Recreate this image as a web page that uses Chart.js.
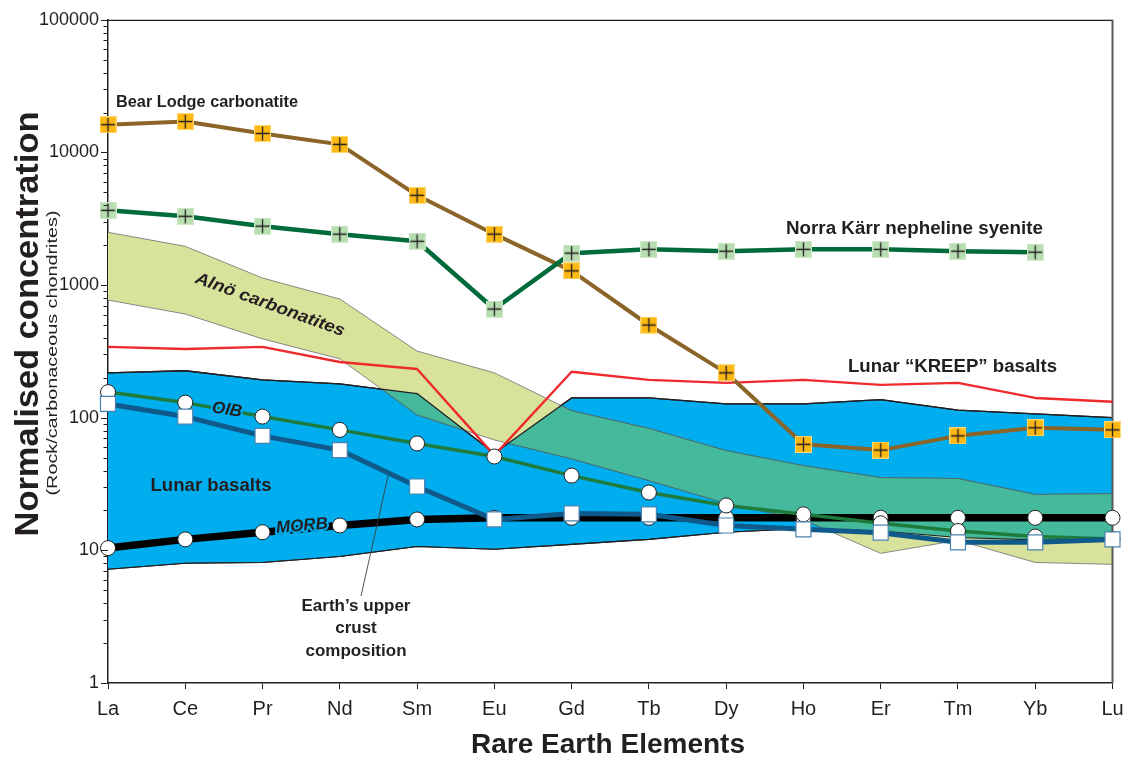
<!DOCTYPE html>
<html>
<head>
<meta charset="utf-8">
<script src="https://cdn.jsdelivr.net/npm/chart.js@4.4.1/dist/chart.umd.min.js"></script>
<style>
html,body{margin:0;padding:0;background:#ffffff;}
#wrap{width:1125px;height:761px;position:relative;}
</style>
</head>
<body>
<div id="wrap"><canvas id="c" width="1125" height="761"></canvas></div>
<script>
// ---------------- data ----------------
const categories = ['La','Ce','Pr','Nd','Sm','Eu','Gd','Tb','Dy','Ho','Er','Tm','Yb','Lu'];
const yTickValues = [1, 10, 100, 1000, 10000, 100000];
const yTickLabels = ['1', '10', '100', '1000', '10000', '100000'];

const bearLodge = [16200, 17100, 13900, 11500, 4750, 2420, 1280, 500, 218, 63, 57, 73, 84, 81];
const norraKarr = [3660, 3300, 2780, 2420, 2140, 660, 1740, 1860, 1800, 1860, 1860, 1800, 1770, null];
const kreep     = [342, 330, 342, 263, 233, 52, 222, 193, 183, 193, 177, 183, 141, 132];
const oib       = [156, 130, 102, 81, 64, 51, 36.6, 27.3, 21.8, 18.7, 16, 14, 12.7, 12.2];
const upperCrust= [127, 102, 73, 57, 30.3, 17.1, 19, 18.7, 15.4, 14.4, 13.6, 11.5, 11.5, 12.1];
const morb      = [10.4, 12.1, 13.7, 15.4, 17.1, 17.6, 17.6, 17.6, 17.6, 17.6, 17.6, 17.6, 17.6, 17.6];
const lunarUpper= [218, 226, 193, 180, 152, 54, 141, 141, 127, 127, 137, 114, 107, 100];
const lunarLower= [7.2, 8.0, 8.1, 9.0, 10.7, 10.2, 11.1, 12.1, 13.7, 14.6, 14, 12.5, 12, 12];
const alnoUpper = [2500, 1960, 1130, 785, 318, 218, 113, 83, 56.5, 43.5, 35.4, 34.8, 26.4, 26.8];
const alnoLower = [771, 605, 393, 278, 105, 68, 49, 33.6, 22.6, 17, 9.5, 11.9, 8.1, 7.85];

// ---------------- styles ----------------
const INK = '#231F20';
const TEAL = '#45B99B';
const BLUE = '#00AEEF';
const FONT = '"Liberation Sans", Arial, sans-serif';
function crossSquare(size, fill, edge) {
  const c = document.createElement('canvas');
  c.width = size; c.height = size;
  const g = c.getContext('2d');
  g.fillStyle = edge; g.fillRect(0, 0, size, size);
  g.fillStyle = fill; g.fillRect(1, 1, size - 2, size - 2);
  g.strokeStyle = INK; g.lineWidth = 1.3;
  const m = size / 2;
  g.beginPath();
  g.moveTo(m, 1.5); g.lineTo(m, size - 1.5);
  g.moveTo(1.5, m); g.lineTo(size - 1.5, m);
  g.stroke();
  return c;
}
const bearMarker = crossSquare(17, '#FDB813', '#FFD873');
const norraMarker = crossSquare(17, '#B7DEB1', '#CFE9C9');

function txt(ctx, s, x, y, font, o) {
  o = o || {};
  ctx.save();
  ctx.translate(x, y);
  if (o.rot) ctx.rotate(o.rot * Math.PI / 180);
  ctx.font = font;
  if (o.len) { const w = ctx.measureText(s).width; ctx.scale(o.len / w, 1); }
  ctx.textAlign = o.align || 'center';
  ctx.textBaseline = 'middle';
  if (o.halo) {
    ctx.strokeStyle = o.halo; ctx.lineWidth = o.haloW || 4; ctx.lineJoin = 'round';
    ctx.strokeText(s, 0, 0);
  }
  ctx.fillStyle = o.color || INK;
  ctx.fillText(s, 0, 0);
  ctx.restore();
}

// band overlap (teal) + outlines + frame
const IDX = {lu: 0, ll: 1, au: 2, al: 3};
const bandPlugin = {
  id: 'bandOverlap',
  afterDatasetDraw(chart, args) {
    if (args.index !== IDX.al) return;
    const ctx = chart.ctx, a = chart.chartArea;
    const bu = chart.getDatasetMeta(IDX.lu).data, bl = chart.getDatasetMeta(IDX.ll).data;
    const au = chart.getDatasetMeta(IDX.au).data, al = chart.getDatasetMeta(IDX.al).data;
    const path = (u, l) => {
      ctx.beginPath();
      u.forEach((p, i) => i ? ctx.lineTo(p.x, p.y) : ctx.moveTo(p.x, p.y));
      for (let i = l.length - 1; i >= 0; i--) ctx.lineTo(l[i].x, l[i].y);
      ctx.closePath();
    };
    const line = (pts, color, w) => {
      ctx.beginPath();
      pts.forEach((p, i) => i ? ctx.lineTo(p.x, p.y) : ctx.moveTo(p.x, p.y));
      ctx.strokeStyle = color; ctx.lineWidth = w; ctx.lineJoin = 'round'; ctx.stroke();
    };
    ctx.save();
    ctx.beginPath(); ctx.rect(a.left, a.top, a.right - a.left, a.bottom - a.top); ctx.clip();
    ctx.save();
    path(bu, bl); ctx.clip();
    path(au, al); ctx.fillStyle = TEAL; ctx.fill();
    line(au, '#3F5F66', 0.8);
    line(al, '#3F5F66', 0.8);
    ctx.restore();
    line(bu, INK, 1.3);
    line(bl, INK, 1.1);
    ctx.restore();
    // frame: top + right
    ctx.save();
    ctx.strokeStyle = INK; ctx.lineWidth = 1.2;
    ctx.beginPath(); ctx.moveTo(a.left, a.top + 0.5); ctx.lineTo(a.right, a.top + 0.5); ctx.stroke();
    ctx.strokeStyle = '#58595B'; ctx.lineWidth = 2;
    ctx.beginPath(); ctx.moveTo(a.right, a.top); ctx.lineTo(a.right, a.bottom); ctx.stroke();
    ctx.restore();
  }
};

const decorPlugin = {
  id: 'decor',
  afterDraw(chart) {
    const ctx = chart.ctx, a = chart.chartArea, y = chart.scales.y;
    // y ticks major & minor (outward)
    ctx.save();
    ctx.strokeStyle = INK; ctx.lineWidth = 1;
    for (let d = 1; d <= 100000; d *= 10) {
      for (let k = 1; k <= 9; k++) {
        const v = d * k;
        if (v > 100000) break;
        const py = Math.round(y.getPixelForValue(v)) + 0.5;
        const len = k === 1 ? 7 : 4.5;
        ctx.beginPath(); ctx.moveTo(a.left - len, py); ctx.lineTo(a.left, py); ctx.stroke();
      }
    }
    ctx.restore();
    // axis titles
    txt(ctx, 'Normalised concentration', 29, 324, 'bold 33px ' + FONT, {rot: -90, len: 425});
    txt(ctx, '(Rock/carbonaceous chondrites)', 53, 353, '15px ' + FONT, {rot: -90, len: 285});
    txt(ctx, 'Rare Earth Elements', 608, 745, 'bold 28px ' + FONT, {len: 274});
  },
  afterDatasetsDraw(chart) {
    const ctx = chart.ctx;
    const B = 'bold 18px ' + FONT;
    const BI = 'italic bold 17px ' + FONT;
    txt(ctx, 'Bear Lodge carbonatite', 116, 102, 'bold 17px ' + FONT, {align: 'left', len: 182});
    txt(ctx, 'Norra Kärr nepheline syenite', 786, 229, B, {align: 'left', len: 257});
    txt(ctx, 'Lunar \u201CKREEP\u201D basalts', 848, 367, B, {align: 'left', len: 209});
    txt(ctx, 'Alnö carbonatites', 270, 305, BI, {rot: 20, len: 158});
    txt(ctx, 'Lunar basalts', 211, 486, B, {len: 121});
    txt(ctx, 'OIB', 227, 410, 'italic bold 17px ' + FONT, {rot: 9, halo: BLUE, haloW: 4});
    txt(ctx, 'MORB', 302, 526, 'italic bold 17px ' + FONT, {rot: -5, halo: BLUE, haloW: 4});
    const F = 'bold 17px ' + FONT;
    txt(ctx, 'Earth\u2019s upper', 356, 606, F);
    txt(ctx, 'crust', 356, 628, F);
    txt(ctx, 'composition', 356, 651, F);
    ctx.save();
    ctx.strokeStyle = '#414042'; ctx.lineWidth = 0.9;
    ctx.beginPath(); ctx.moveTo(388, 476); ctx.lineTo(361, 596); ctx.stroke();
    ctx.restore();
  }
};

const band = (data, fill, bg, border, bw, order) => ({
  data, fill, backgroundColor: bg, borderColor: border, borderWidth: bw,
  pointRadius: 0, pointHoverRadius: 0, tension: 0, order
});
const series = (data, color, width, order, extra) => Object.assign({
  data, borderColor: color, borderWidth: width, fill: false, tension: 0,
  order, clip: false, borderJoinStyle: 'round', pointHoverRadius: 0
}, extra);

new Chart(document.getElementById('c'), {
  type: 'line',
  data: {
    labels: categories,
    datasets: [
      band(lunarUpper, '+1', BLUE, INK, 1.3, 40),
      band(lunarLower, false, 'transparent', INK, 1.1, 39),
      band(alnoUpper, '+1', '#D8E29B', '#6D6E71', 0.8, 38),
      band(alnoLower, false, 'transparent', '#6D6E71', 0.8, 37),
      series(kreep, '#EE2A2E', 2.4, 30, {pointRadius: 0}),
      series(morb, '#000000', 7.5, 26, {pointStyle: 'circle', pointRadius: 7.5, pointBackgroundColor: '#FFFFFF', pointBorderColor: INK, pointBorderWidth: 1}),
      series(oib, '#1E7B3C', 3.5, 25, {pointStyle: 'circle', pointRadius: 7.5, pointBackgroundColor: '#FFFFFF', pointBorderColor: INK, pointBorderWidth: 1}),
      series(upperCrust, '#0F5A8A', 5, 24, {pointStyle: 'rect', pointRadius: 10.6, pointBackgroundColor: '#FFFFFF', pointBorderColor: '#4A82B0', pointBorderWidth: 1.2}),
      series(bearLodge, '#8B6428', 4, 21, {pointStyle: bearMarker, pointRadius: 8}),
      series(norraKarr, '#006B3A', 4.5, 20, {pointStyle: norraMarker, pointRadius: 8})
    ]
  },
  options: {
    responsive: false,
    animation: false,
    events: [],
    layout: {padding: {top: 18, right: 12, left: 0, bottom: 0}},
    plugins: {legend: {display: false}, tooltip: {enabled: false}},
    scales: {
      x: {
        type: 'category',
        offset: false,
        grid: {display: true, drawOnChartArea: false, drawTicks: true, tickLength: 6, tickColor: INK, tickWidth: 1},
        border: {display: true, color: INK, width: 1.5},
        ticks: {font: {family: FONT, size: 20}, color: INK, padding: 8, maxRotation: 0, autoSkip: false},
        afterFit: s => { s.height = 78; s.paddingRight = 0; s.paddingLeft = 0; }
      },
      y: {
        type: 'logarithmic',
        min: 1, max: 100000,
        grid: {display: true, drawOnChartArea: false, drawTicks: false},
        border: {display: true, color: INK, width: 1.5},
        afterBuildTicks: s => { s.ticks = yTickValues.map(v => ({value: v})); },
        ticks: {
          autoSkip: false,
          font: {family: FONT, size: 18},
          color: INK, padding: 9,
          callback: v => { const i = yTickValues.indexOf(v); return i >= 0 ? yTickLabels[i] : ''; }
        },
        afterFit: s => { s.width = 108; }
      }
    }
  },
  plugins: [bandPlugin, decorPlugin]
});
</script>
</body>
</html>
